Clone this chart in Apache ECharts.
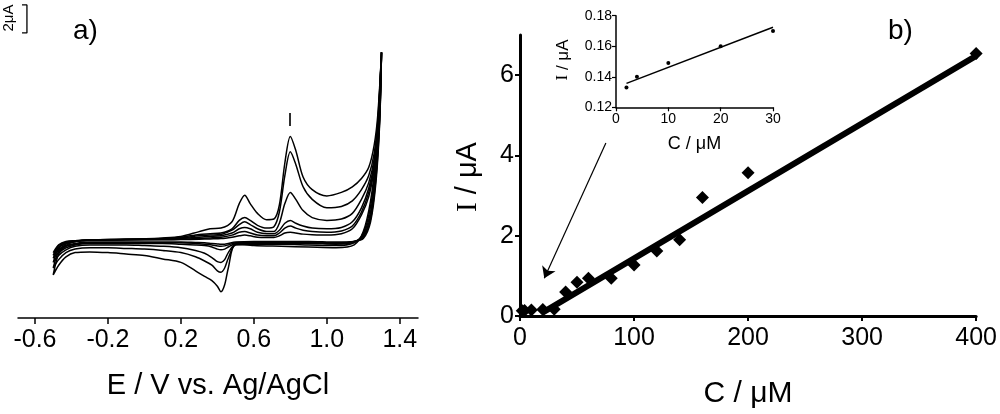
<!DOCTYPE html>
<html>
<head>
    <meta charset="utf-8" />
    <title>CV and calibration</title>
    <script src="https://cdn.jsdelivr.net/npm/echarts@6.0.0/dist/echarts.min.js"></script>
    <style>
        html, body { margin: 0; padding: 0; background: #fff; }
        #main { width: 1000px; height: 414px; }
    </style>
</head>
<body>
    <div id="main"></div>
    <script type="text/javascript">
        // ---- a) cyclic voltammograms ----
        // potentials of the forward (anodic) sweep and of the reverse sweep, V
        var eFwd = [-0.5, -0.47, -0.43, -0.38, -0.3, -0.1, 0.1, 0.2, 0.3, 0.36, 0.42, 0.48, 0.52, 0.55, 0.58, 0.62,
            0.67, 0.71, 0.74, 0.77, 0.8, 0.83, 0.87, 0.92, 1.0, 1.08, 1.14, 1.19, 1.23, 1.26, 1.28, 1.3];
        var eRev = [1.29, 1.27, 1.24, 1.2, 1.15, 1.05, 0.9, 0.75, 0.6, 0.5, 0.46, 0.44, 0.42, 0.4, 0.37, 0.33,
            0.28, 0.2, 0.1, 0.0, -0.1, -0.2, -0.3, -0.38, -0.43, -0.47, -0.5];

        // current, uA (lowest concentration first)
        var iFwd = [
            [-0.9, -0.35, -0.1, -0.05, -0.02, 0.0, 0.02, 0.03, 0.06, 0.08, 0.1, 0.2, 0.3, 0.35, 0.3, 0.2, 0.18, 0.18, 0.3, 0.5, 0.55, 0.5, 0.42, 0.38, 0.35, 0.45, 0.8, 1.8, 3.1, 5.1, 7.7, 13.4],
            [-1.1, -0.4, -0.15, -0.05, 0.0, 0.02, 0.04, 0.06, 0.12, 0.15, 0.2, 0.35, 0.55, 0.6, 0.5, 0.35, 0.3, 0.3, 0.5, 0.85, 1.0, 0.85, 0.7, 0.6, 0.55, 0.65, 1.0, 2.0, 3.4, 5.3, 7.9, 13.4],
            [-1.3, -0.5, -0.2, -0.1, 0.0, 0.03, 0.05, 0.1, 0.2, 0.25, 0.3, 0.5, 0.8, 0.9, 0.8, 0.55, 0.45, 0.45, 0.7, 1.2, 1.4, 1.2, 1.0, 0.85, 0.8, 0.9, 1.3, 2.3, 3.7, 5.5, 8.1, 13.4],
            [-1.6, -0.6, -0.25, -0.1, 0.0, 0.05, 0.1, 0.15, 0.3, 0.35, 0.4, 0.7, 1.1, 1.3, 1.1, 0.8, 0.6, 0.6, 1.2, 2.6, 3.4, 2.9, 2.1, 1.6, 1.4, 1.5, 1.9, 2.9, 4.1, 5.8, 8.3, 13.4],
            [-2.0, -0.8, -0.3, -0.1, 0.0, 0.05, 0.1, 0.2, 0.4, 0.45, 0.5, 0.8, 1.4, 1.6, 1.4, 1.05, 0.85, 0.95, 2.0, 4.6, 6.3, 5.4, 3.8, 2.9, 2.3, 2.4, 2.8, 3.6, 4.6, 6.2, 8.6, 13.4],
            [-2.5, -1.0, -0.4, -0.1, 0.0, 0.05, 0.15, 0.25, 0.6, 0.8, 0.85, 1.3, 2.6, 3.2, 2.6, 1.9, 1.45, 1.5, 2.5, 5.5, 7.4, 6.4, 4.5, 3.6, 3.15, 3.4, 3.8, 4.4, 5.2, 6.8, 9.0, 13.4]
        ];
        var iRev = [
            [8.4, 4.2, 1.3, 0.1, -0.1, -0.15, -0.1, -0.1, -0.1, -0.15, -0.25, -0.3, -0.3, -0.28, -0.25, -0.2, -0.18, -0.15, -0.15, -0.15, -0.15, -0.15, -0.15, -0.25, -0.4, -0.65, -0.9],
            [8.6, 4.5, 1.5, 0.2, -0.1, -0.2, -0.15, -0.15, -0.15, -0.2, -0.35, -0.42, -0.45, -0.42, -0.35, -0.3, -0.25, -0.2, -0.2, -0.2, -0.2, -0.2, -0.2, -0.3, -0.45, -0.75, -1.1],
            [8.8, 4.8, 1.7, 0.3, -0.1, -0.25, -0.2, -0.2, -0.2, -0.25, -0.5, -0.65, -0.7, -0.65, -0.5, -0.4, -0.35, -0.3, -0.25, -0.25, -0.25, -0.25, -0.25, -0.35, -0.55, -0.9, -1.3],
            [9.0, 5.2, 2.0, 0.4, -0.15, -0.3, -0.25, -0.25, -0.25, -0.3, -0.9, -1.4, -1.6, -1.55, -1.25, -0.95, -0.75, -0.55, -0.45, -0.4, -0.35, -0.35, -0.35, -0.45, -0.7, -1.1, -1.6],
            [9.3, 5.6, 2.4, 0.5, -0.2, -0.4, -0.35, -0.3, -0.3, -0.35, -1.3, -2.0, -2.3, -2.2, -1.8, -1.5, -1.2, -0.9, -0.75, -0.65, -0.6, -0.55, -0.55, -0.65, -0.9, -1.4, -2.0],
            [9.5, 6.0, 2.8, 0.6, -0.35, -0.55, -0.5, -0.45, -0.4, -0.3, -2.0, -3.2, -3.7, -3.3, -2.9, -2.6, -2.2, -1.6, -1.35, -1.1, -1.0, -0.9, -0.85, -0.9, -1.2, -1.8, -2.5]
        ];
        var eTicks = [-0.6, -0.2, 0.2, 0.6, 1.0, 1.4];
        // 2 uA scale bar (bracket), in axis units
        var scaleBar = [[-0.671, 16.79], [-0.644, 16.79], [-0.644, 14.79], [-0.671, 14.79]];

        // ---- b) calibration ----
        var conc = [2, 4, 10, 20, 30, 40, 50, 60, 80, 100, 120, 140, 160, 200, 400];
        var current = [0.133, 0.14, 0.149, 0.16, 0.17, 0.6, 0.84, 0.94, 0.94, 1.27, 1.62, 1.9, 2.95, 3.57, 6.54];
        var fitMain = [[19, 0.07], [400, 6.48]];
        var iTicks = [0, 2, 4, 6];
        var arrowFrom = [75.3, 4.31];
        var arrowTo = [21.3, 0.94];
        // inset (low concentrations)
        var insetConc = [2, 4, 10, 20, 30];
        var insetCurrent = [0.133, 0.14, 0.149, 0.16, 0.17];
        var insetFit = [[2, 0.1357], [30, 0.1724]];

        var FONT = 'Liberation Sans, Arial, sans-serif';
        var myChart = echarts.init(document.getElementById('main'));

        var series = [];
        for (var k = 0; k < iFwd.length; k++) {
            var pts = [];
            for (var i = 0; i < eFwd.length; i++) pts.push([eFwd[i], iFwd[k][i]]);
            for (var j = 0; j < eRev.length; j++) pts.push([eRev[j], iRev[k][j]]);
            series.push({
                type: 'line', xAxisIndex: 0, yAxisIndex: 0, data: pts,
                showSymbol: false, smooth: 0.3,
                lineStyle: { color: '#000', width: 1.5 }
            });
        }
        series.push({
            type: 'line', xAxisIndex: 0, yAxisIndex: 0, data: scaleBar, clip: false,
            showSymbol: false, lineStyle: { color: '#000', width: 1.3 }
        });

        var mainPts = conc.map(function (c, i) { return [c, current[i]]; });
        series.push({
            type: 'line', xAxisIndex: 1, yAxisIndex: 1, data: fitMain,
            showSymbol: false, lineStyle: { color: '#000', width: 6 },
            markLine: {
                silent: true, symbol: ['none', 'arrow'], symbolSize: 11,
                label: { show: false },
                lineStyle: { color: '#000', width: 1.2, type: 'solid' },
                data: [[{ coord: arrowFrom }, { coord: arrowTo }]]
            }
        });
        series.push({
            type: 'scatter', xAxisIndex: 1, yAxisIndex: 1, data: mainPts,
            symbol: 'diamond', symbolSize: 13, itemStyle: { color: '#000', opacity: 1 }
        });

        var insetPts = insetConc.map(function (c, i) { return [c, insetCurrent[i]]; });
        series.push({
            type: 'line', xAxisIndex: 2, yAxisIndex: 2, data: insetFit,
            showSymbol: false, lineStyle: { color: '#000', width: 1.5 }
        });
        series.push({
            type: 'scatter', xAxisIndex: 2, yAxisIndex: 2, data: insetPts,
            symbol: 'circle', symbolSize: 4, itemStyle: { color: '#000', opacity: 1 }
        });

        option = {
            backgroundColor: '#fff',
            animation: false,
            textStyle: { fontFamily: FONT, color: '#000' },
            grid: [
                { left: 18, right: 582, top: 0, bottom: 96 },
                { left: 520, right: 23, top: 35, bottom: 96 },
                { left: 616, top: 15.7, width: 157, height: 91.6 }
            ],
            xAxis: [{
                gridIndex: 0, type: 'value', min: -0.693, max: 1.5,
                axisLine: { onZero: false, lineStyle: { color: '#000', width: 1.5 } },
                axisTick: { show: true, customValues: eTicks, length: 6, lineStyle: { color: '#000', width: 1.5 } },
                axisLabel: {
                    customValues: eTicks, fontSize: 25, color: '#000', margin: 10, fontFamily: FONT,
                    formatter: function (v) { return v.toFixed(1); }
                },
                splitLine: { show: false },
                name: 'E / V vs. Ag/AgCl', nameLocation: 'middle', nameGap: 53,
                nameTextStyle: { fontSize: 29, color: '#000', fontFamily: FONT }
            }, {
                gridIndex: 1, type: 'value', min: 0, max: 400, interval: 100,
                axisLine: { onZero: false, lineStyle: { color: '#000', width: 3 } },
                axisTick: { show: true, length: 5, lineStyle: { color: '#000', width: 2 } },
                axisLabel: { fontSize: 25, color: '#000', margin: 10, fontFamily: FONT },
                splitLine: { show: false },
                name: 'C / μM', nameLocation: 'middle', nameGap: 63,
                nameTextStyle: { fontSize: 30, color: '#000', fontFamily: FONT }
            }, {
                gridIndex: 2, type: 'value', min: 0, max: 30, interval: 10,
                axisLine: { onZero: false, lineStyle: { color: '#000', width: 1.5 } },
                axisTick: { show: true, length: 4, lineStyle: { color: '#000', width: 1.2 } },
                axisLabel: { fontSize: 14, color: '#000', margin: 5, fontFamily: FONT },
                splitLine: { show: false },
                name: 'C / μM', nameLocation: 'middle', nameGap: 28,
                nameTextStyle: { fontSize: 18, color: '#000', fontFamily: FONT }
            }],
            yAxis: [{
                gridIndex: 0, type: 'value', min: -5.571, max: 17.143, show: false
            }, {
                gridIndex: 1, type: 'value', min: 0, max: 7,
                axisLine: { show: true, onZero: false, lineStyle: { color: '#000', width: 3 } },
                axisTick: { show: true, customValues: iTicks, length: 5, lineStyle: { color: '#000', width: 2 } },
                axisLabel: { customValues: iTicks, fontSize: 25, color: '#000', margin: 6, fontFamily: FONT },
                splitLine: { show: false }
            }, {
                gridIndex: 2, type: 'value', min: 0.12, max: 0.18, interval: 0.02,
                axisLine: { show: true, onZero: false, lineStyle: { color: '#000', width: 1.5 } },
                axisTick: { show: true, length: 4, lineStyle: { color: '#000', width: 1.2 } },
                axisLabel: {
                    fontSize: 14, color: '#000', margin: 4, fontFamily: FONT,
                    formatter: function (v) { return v.toFixed(2); }
                },
                splitLine: { show: false }
            }],
            graphic: [
                { type: 'text', x: 73, y: 31, style: { text: 'a)', font: '28px ' + FONT, fill: '#000', verticalAlign: 'middle' } },
                { type: 'text', x: 888, y: 31, style: { text: 'b)', font: '28px ' + FONT, fill: '#000', verticalAlign: 'middle' } },
                { type: 'text', x: 290, y: 121, style: { text: 'I', font: '18px ' + FONT, fill: '#000', align: 'center', verticalAlign: 'middle' } },
                { type: 'text', x: 9, y: 18, rotation: Math.PI / 2, style: { text: '2μA', font: '15px ' + FONT, fill: '#000', align: 'center', verticalAlign: 'middle' } },
                {
                    type: 'text', x: 468, y: 177, rotation: Math.PI / 2,
                    style: {
                        text: '{s|I} / μA', font: '29px ' + FONT, fill: '#000', align: 'center', verticalAlign: 'middle',
                        rich: { s: { fontFamily: 'Liberation Serif', fontSize: 29 } }
                    }
                },
                {
                    type: 'text', x: 563, y: 60, rotation: Math.PI / 2,
                    style: {
                        text: '{s|I} / μA', font: '17px ' + FONT, fill: '#000', align: 'center', verticalAlign: 'middle',
                        rich: { s: { fontFamily: 'Liberation Serif', fontSize: 17 } }
                    }
                }
            ],
            series: series
        };

        myChart.setOption(option);
    </script>
</body>
</html>
